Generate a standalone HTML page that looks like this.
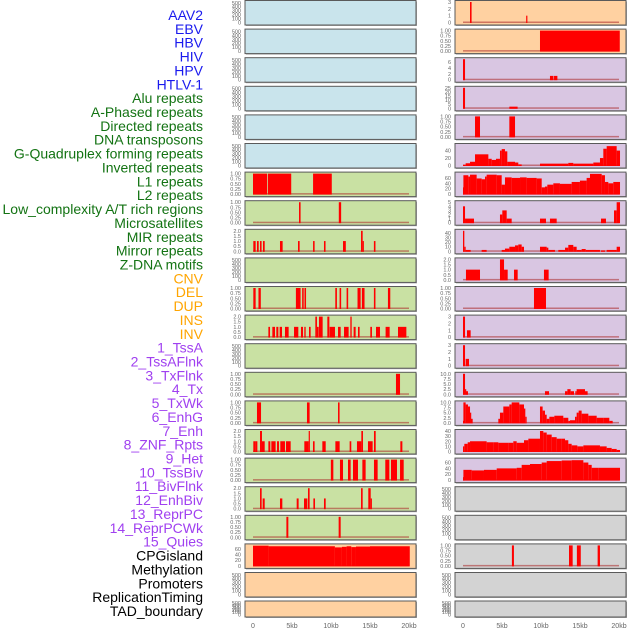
<!DOCTYPE html>
<html><head><meta charset="utf-8"><style>
body{margin:0;background:#fff;width:630px;height:630px;overflow:hidden}
svg{display:block}
</style></head><body>
<svg id="chart" width="630" height="630" xmlns="http://www.w3.org/2000/svg" font-family="Liberation Sans, sans-serif"></svg>
<script>
// ---- labels ----
const labels = ["AAV2","EBV","HBV","HIV","HPV","HTLV-1","Alu repeats","A-Phased repeats","Directed repeats","DNA transposons","G-Quadruplex forming repeats","Inverted repeats","L1 repeats","L2 repeats","Low_complexity A/T rich regions","Microsatellites","MIR repeats","Mirror repeats","Z-DNA motifs","CNV","DEL","DUP","INS","INV","1_TssA","2_TssAFlnk","3_TxFlnk","4_Tx","5_TxWk","6_EnhG","7_Enh","8_ZNF_Rpts","9_Het","10_TssBiv","11_BivFlnk","12_EnhBiv","13_ReprPC","14_ReprPCWk","15_Quies","CPGisland","Methylation","Promoters","ReplicationTiming","TAD_boundary"];
const labelGroups = [6,13,5,15,5];
const groupColors = ["#1a1aee","#137313","#ffa500","#a040f0","#000000"];
const xTickValues = [0,5,10,15,20];
const xTickLabels = ["0","5kb","10kb","15kb","20kb"];

// ---- y-axis tick sets ----
const T500 = [0,100,200,300,400,500];
const T1 = [0,0.25,0.5,0.75,1];
const T2 = [0,0.5,1,1.5,2];
const T3 = [0,1,2,3];
const T10 = [0,2.5,5,7.5,10];

// ---- left column series: [startKb, endKb, value] ----
const L_L1 = [[0,1.8,1],[1.9,4.9,1],[7.7,10.1,1]];
const L_L2 = [[5.9,6.1,1],[11.0,11.3,1]];
const L_LowC = [[0.04,0.34,1],[0.51,0.73,1],[0.9,1.1,1],[1.28,1.5,1],[3.46,3.8,1],[5.77,5.98,1],[7.7,7.9,1],[9.1,9.3,1],[11.54,11.9,1],[13.85,14.06,2],[14.06,14.2,1],[15.5,15.7,1]];
const L_MIR = [[0.04,0.34,1],[0.7,1.0,1],[5.5,6.1,1],[6.3,6.5,1],[6.6,6.8,1],[10.55,10.76,1],[11.1,11.3,1],[12.0,12.2,1],[13.4,13.8,1],[13.96,14.3,1],[15.5,15.7,1],[17.3,17.6,1]];
const L_Mirror = [[1.97,2.18,1],[2.48,2.82,1],[2.99,3.25,1],[3.42,3.72,1],[4.1,4.57,1],[5.26,5.81,1],[6.15,6.41,1],[6.58,6.75,1],[7.18,7.39,1],[7.99,8.2,2],[8.2,8.42,1],[8.46,8.93,2],[9.53,9.79,2],[9.83,10.51,1],[10.9,11.24,1],[11.67,12.26,1],[12.48,12.65,2],[12.9,13.16,1],[13.46,13.67,1],[15.04,15.25,1],[15.77,16.28,1],[17.0,17.52,1],[18.59,19.66,1]];
const L_CNV = [[18.33,18.85,1]];
const L_DEL = [[0.51,1.03,1],[6.92,7.26,1],[10.9,11.1,1]];
const L_DUP = [[0.04,0.34,1],[0.34,0.56,1],[0.9,1.15,2],[1.15,1.5,1],[1.97,2.22,1],[2.35,2.9,1],[3.08,3.33,1],[3.5,4.1,1],[4.23,4.83,1],[6.58,7.14,1],[7.14,7.26,2],[7.69,7.9,1],[8.89,9.32,1],[10.56,11.11,1],[12.39,12.6,1],[13.33,13.89,1],[13.89,14.1,2],[14.74,15.34,1],[15.51,15.73,2],[18.89,19.15,1]];
const L_INV = [[9.98,10.3,1],[11.15,11.54,1],[12.18,12.52,1],[12.82,13.46,1],[14.02,14.44,1],[15.51,15.98,1],[16.96,17.48,1],[17.69,18.46,1],[18.85,19.32,1]];
const L_R17 = [[0.9,1.11,2],[1.24,1.5,1],[3.46,3.76,1],[5.6,5.85,1],[6.54,6.97,1],[7.05,7.26,2],[7.74,7.95,1],[9.1,9.32,1],[13.85,14.06,2],[14.78,15.09,2],[15.09,15.2,1]];
const L_R18 = [[4.28,4.53,1],[10.98,11.24,1]];
const L_CPG = [[0,2,71],[2,10.5,69],[10.5,11.4,65],[11.4,12.0,67],[12.0,12.6,69],[12.6,13.2,66],[13.2,15.0,68],[15.0,20.1,69]];

// ---- right column series ----
const R_AAV2 = [[0.9,1.1,3],[8.1,8.25,1]];
const R_EBV = [[9.87,20.1,1]];
const R_HBV = [[0,0.26,7],[11.15,11.6,1.3],[11.67,12.1,1.3]];
const R_HIV = [[0,0.26,25],[5.94,7.0,2]];
const R_HPV = [[1.54,2.18,1],[5.94,6.67,1]];
const R_HTLV = [[0,0.34,2],[0.34,0.9,6],[0.9,1.54,10],[1.54,3.25,30],[3.25,3.68,18],[3.68,4.23,15],[4.23,4.74,18],[4.74,4.96,40],[4.96,5.38,44],[5.38,5.68,38],[5.68,6.67,10],[6.67,7.09,8],[7.09,7.52,3],[9.87,13.5,5],[13.5,14.14,7],[14.14,16.71,5],[16.71,17.56,8],[17.56,17.99,20],[17.99,18.42,45],[18.42,19.7,52],[19.7,20.13,40]];
const R_L1 = [[0,0.05,25],[0.05,0.68,70],[0.68,0.9,65],[0.9,1.75,72],[1.75,2.39,58],[2.39,2.82,55],[2.82,3.03,65],[3.03,4.32,72],[4.32,4.96,70],[4.96,5.38,35],[5.38,6.24,62],[6.24,7.31,60],[7.31,8.16,62],[8.16,9.44,60],[9.44,10.09,58],[10.09,10.51,25],[10.51,10.81,28],[10.81,11.58,35],[11.58,12.43,40],[12.43,13.93,38],[13.93,14.99,45],[14.99,15.85,50],[15.85,16.28,60],[16.28,17.78,75],[17.78,18.2,70],[18.2,18.63,45],[18.63,19.27,40],[19.27,20.13,45]];
const R_R7 = [[0,0.26,4],[0.26,1.41,1],[4.74,5.04,2],[5.04,5.6,3],[5.6,6.24,1],[9.87,10.64,1],[11.15,12.01,1],[17.69,18.33,1],[19.36,19.7,3],[19.7,20.13,5]];
const R_R8 = [[0,0.17,45],[0.17,0.34,10],[0.34,0.98,3],[2.39,3.03,3],[4.96,5.38,3],[5.38,5.94,6],[5.94,6.67,10],[6.67,7.09,13],[7.09,7.52,15],[7.52,7.82,10],[9.87,10.73,10],[10.73,10.94,8],[10.94,11.79,3],[12.22,13.08,3],[13.08,13.5,8],[13.5,14.14,14],[14.14,14.57,10],[14.57,15.21,3],[15.21,15.73,5],[15.73,17.56,3],[17.69,18.2,2],[18.42,19.7,3],[19.7,20.13,10]];
const R_R9 = [[0.38,2.18,1],[4.74,5.26,2],[5.26,5.73,1],[6.54,7.01,1],[10.38,10.98,1]];
const R_R10 = [[9.1,10.64,1]];
const R_R11 = [[0,0.26,3],[0.51,0.98,1]];
const R_R12 = [[0,0.26,3],[0.34,0.77,1]];
const R_R13 = [[0,0.26,10],[0.26,0.38,2.5],[0.38,0.64,1.5],[10.51,11.03,1.5],[13.08,13.38,1.5],[13.38,13.8,2.5],[13.8,14.23,1.5],[14.4,14.57,1.5],[14.57,15.64,2.5],[15.64,15.98,1.5]];
const R_R14 = [[0,0.05,1],[0.05,0.34,10],[0.34,0.64,9],[0.64,0.9,8],[0.9,1.03,5],[1.03,1.24,2],[4.53,4.74,2],[4.74,5.17,5],[5.17,5.94,8],[5.94,6.24,9],[6.24,7.22,10],[7.22,7.82,9],[7.82,7.99,7],[7.99,8.16,3],[9.87,10.21,8],[10.21,10.51,6],[10.51,10.73,4],[10.73,11.07,2],[11.07,11.71,3],[11.71,12.86,3.5],[12.86,13.5,2.5],[13.5,13.72,1],[13.72,14.36,1.3],[14.36,14.57,3],[14.57,14.83,5],[14.83,15.21,6],[15.21,16.07,4.5],[16.07,17.14,3.5],[17.14,17.99,2.5],[17.99,18.76,2.5],[18.76,19.19,1]];
const R_R15 = [[0,0.17,10],[0.17,0.6,15],[0.6,0.9,18],[0.9,3.03,20],[3.03,3.89,18],[3.89,4.53,18],[4.53,5.81,17],[5.81,6.45,17],[6.45,6.88,20],[6.88,7.82,17],[7.82,8.38,22],[8.38,9.87,25],[9.87,10.3,40],[10.3,10.73,37],[10.73,11.37,33],[11.37,12.01,28],[12.01,12.65,25],[12.65,13.08,25],[13.08,13.5,22],[13.5,13.93,15],[13.93,14.66,12],[14.66,15.43,10],[15.43,17.56,12],[17.56,18.42,10],[18.42,19.06,7],[19.06,19.7,5],[19.7,20.13,3]];
const R_R16 = [[0,0.05,10],[0.05,1.11,35],[1.11,2.69,33],[2.69,4.32,35],[4.32,6.88,40],[6.88,7.52,42],[7.52,8.59,52],[8.59,10.09,55],[10.09,10.73,60],[10.73,12.65,65],[12.65,13.93,67],[13.93,15.43,68],[15.43,16.07,60],[16.07,16.5,52],[16.5,17.35,42],[17.35,20.13,42]];
const R_R19 = [[6.27,6.53,1],[13.59,14.06,1],[14.6,15.1,1],[17.26,17.56,1]];

const BLUE="#c9e4ec", GREEN="#c9e1a3", ORANGE="#ffd1a1", PURPLE="#d9c6e2", GREY="#d3d3d3";
// panel specs: [col,row,bg,ymax,ticks,series]
const panels = [
 [0,0,BLUE,520,T500,null],[0,1,BLUE,520,T500,null],[0,2,BLUE,520,T500,null],[0,3,BLUE,520,T500,null],[0,4,BLUE,520,T500,null],[0,5,BLUE,520,T500,null],
 [0,6,GREEN,1,T1,L_L1],[0,7,GREEN,1,T1,L_L2],[0,8,GREEN,2,T2,L_LowC],[0,9,GREEN,520,T500,null],[0,10,GREEN,1,T1,L_MIR],[0,11,GREEN,2,T2,L_Mirror],
 [0,12,GREEN,520,T500,null],[0,13,GREEN,1,T1,L_CNV],[0,14,GREEN,1,T1,L_DEL],[0,15,GREEN,2,T2,L_DUP],[0,16,GREEN,1,T1,L_INV],[0,17,GREEN,2,T2,L_R17],
 [0,18,GREEN,1,T1,L_R18],[0,19,ORANGE,72,[0,20,40,60],L_CPG],[0,20,ORANGE,520,T500,null],[0,21,ORANGE,520,T500,null],
 [1,0,ORANGE,3,T3,R_AAV2],[1,1,ORANGE,1,T1,R_EBV],[1,2,PURPLE,7,[0,2,4,6],R_HBV],[1,3,PURPLE,25,[0,5,10,15,20,25],R_HIV],[1,4,PURPLE,1,T1,R_HPV],
 [1,5,PURPLE,55,[0,20,40],R_HTLV],[1,6,PURPLE,76,[0,20,40,60],R_L1],[1,7,PURPLE,5,[0,1,2,3,4,5],R_R7],[1,8,PURPLE,45,[0,10,20,30,40],R_R8],
 [1,9,PURPLE,2,T2,R_R9],[1,10,PURPLE,1,T1,R_R10],[1,11,PURPLE,3,T3,R_R11],[1,12,PURPLE,3,T3,R_R12],[1,13,PURPLE,10,T10,R_R13],[1,14,PURPLE,10,T10,R_R14],
 [1,15,PURPLE,40,[0,10,20,30,40],R_R15],[1,16,PURPLE,70,[0,20,40,60],R_R16],[1,17,GREY,520,T500,null],[1,18,GREY,520,T500,null],
 [1,19,GREY,1,T1,R_R19],[1,20,GREY,520,T500,null],[1,21,GREY,520,T500,null]
];

const svg = document.getElementById('chart');
const NS = "http://www.w3.org/2000/svg";
function mk(tag, attrs, parent){ const e=document.createElementNS(NS,tag); for(const k in attrs) e.setAttribute(k,attrs[k]); (parent||svg).appendChild(e); return e; }
const colX0 = [245,455], zeroX=[253,463], pxPerKb=7.8, panelW=171;
function xScale(col,kb){ return zeroX[col]+kb*pxPerKb; }
function rowTop(r){ return r<21 ? 0.5+r*28.6 : 601; }
function rowH(r){ return r<21 ? 24.5 : 16; }
function fmt(t,ticks){ const mx=ticks[ticks.length-1]; if(mx===1) return t.toFixed(2); if(mx===2||mx===10) return t.toFixed(1); return String(t); }

// labels
let li=0;
labelGroups.forEach((n,g)=>{ for(let k=0;k<n;k++){ const y=15+li*13.86+5;
  const t=mk('text',{x:203,y:y,'text-anchor':'end','font-size':14,fill:groupColors[g]});
  
  
  t.textContent=labels[li]; li++; } });

panels.forEach(p=>{
  const [col,row,bg,ymax,ticks,series]=p;
  const top=rowTop(row), h=rowH(row), x0=colX0[col];
  const g=mk('g',{});
  
  
  mk('rect',{x:x0+1,y:top+1,width:panelW,height:h,fill:'#aaa'},g);
  mk('rect',{x:x0,y:top,width:panelW,height:h,fill:bg,stroke:'#5a5a5a','stroke-width':1},g);
  const yb=top+h-2.5, yt=top+1.5;
  const yScale=v=> yb-(v/ymax)*(yb-yt);
  ticks.forEach(t=>{ const tl=mk('text',{x:x0-4,y:yScale(t)+2,'text-anchor':'end','font-size':5.5,fill:'#666'},g);
    
    
    tl.textContent=fmt(t,ticks); });
  if(series){
    mk('rect',{x:xScale(col,0),y:yb-1,width:20*pxPerKb,height:1.5,fill:'rgba(170,40,40,0.55)'},g);
    series.forEach(s=>{ const xa=xScale(col,s[0]), xb=xScale(col,s[1]); const yv=yScale(s[2]);
      const b=mk('rect',{x:xa,y:yv,width:Math.max(1.2,xb-xa),height:yb-yv+0.5,fill:'#ff0000'},g);
      
       });
  }
});
// x axes
[0,1].forEach(col=>{ xTickValues.forEach((v,i)=>{ const t=mk('text',{x:xScale(col,v),y:628,'text-anchor':'middle','font-size':7,fill:'#666'});
  
  
  t.textContent=xTickLabels[i]; }); });
</script>
</body></html>
